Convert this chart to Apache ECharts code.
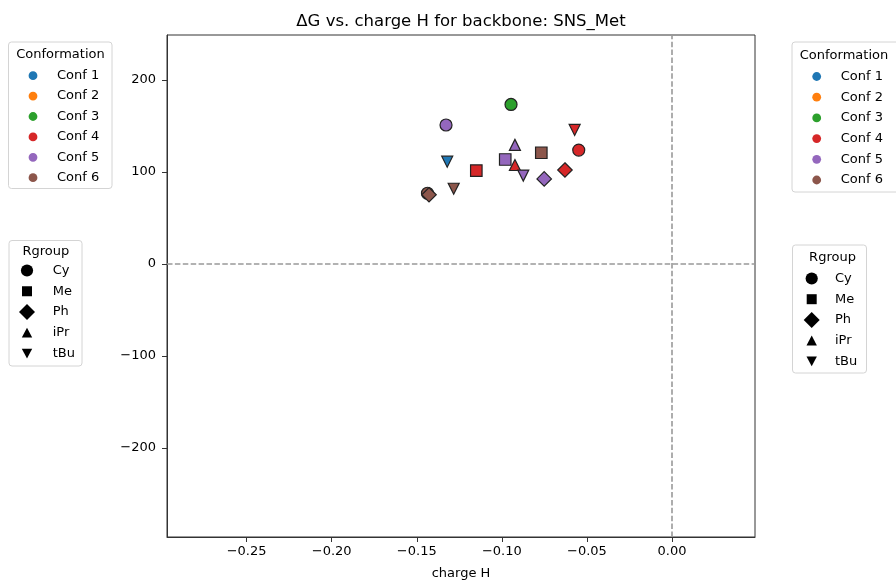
<!DOCTYPE html>
<html>
<head>
<meta charset="utf-8">
<script src="https://cdn.jsdelivr.net/npm/echarts@6/dist/echarts.min.js"></script>
<style>html,body{margin:0;padding:0;background:#fff}#c{width:896px;height:585px}</style>
</head>
<body>
<div id="c"></div>
<script>
const confNames = ['Conf 1', 'Conf 2', 'Conf 3', 'Conf 4', 'Conf 5', 'Conf 6'];
const rgroupNames = ['Cy', 'Me', 'Ph', 'iPr', 'tBu'];
const pointConf = ['Conf 1', 'Conf 3', 'Conf 4', 'Conf 4', 'Conf 4', 'Conf 4', 'Conf 4', 'Conf 5', 'Conf 5', 'Conf 5', 'Conf 5', 'Conf 5', 'Conf 6', 'Conf 6', 'Conf 6', 'Conf 6'];
const pointRgroup = ['tBu', 'Cy', 'Cy', 'Me', 'Ph', 'iPr', 'tBu', 'Cy', 'Me', 'Ph', 'iPr', 'tBu', 'Cy', 'Me', 'Ph', 'tBu'];
const pointChargeH = [-0.1321, -0.0946, -0.0548, -0.1150, -0.0629, -0.0923, -0.0572, -0.1328, -0.0980, -0.0751, -0.0923, -0.0874, -0.1437, -0.0768, -0.1428, -0.1283];
const pointDeltaG = [111.0, 173.2, 123.6, 101.3, 102.0, 107.4, 145.5, 150.9, 113.4, 92.3, 129.3, 95.9, 76.7, 120.7, 75.1, 81.6];
const xTicks = [-0.25, -0.2, -0.15, -0.1, -0.05, 0];
const yTicks = [-200, -100, 0, 100, 200];
const titleText = '\u0394G vs. charge H for backbone: SNS_Met';
const xAxisName = 'charge H';

const confColors = ['#1f77b4', '#ff7f0e', '#2ca02c', '#d62728', '#9467bd', '#8c564b'];
const FONT = 'DejaVu Sans';
const downTri = 'path://M0,0 L10,0 L5,10 Z';
const rgroupSymbols = { Cy: 'circle', Me: 'rect', Ph: 'diamond', iPr: 'triangle', tBu: downTri };
const rgroupSizes = { Cy: 12, Me: 11.5, Ph: 14.5, iPr: 11, tBu: 11 };

function minus(s) { return s.replace('-', '\u2212'); }

const series = [];
rgroupNames.forEach(function (rg, ri) {
  const data = [];
  for (let i = 0; i < pointRgroup.length; i++) {
    if (pointRgroup[i] !== rg) continue;
    const ci = confNames.indexOf(pointConf[i]);
    data.push({ value: [pointChargeH[i], pointDeltaG[i]], itemStyle: { color: confColors[ci] } });
  }
  const s = {
    type: 'scatter', name: rg, symbol: rgroupSymbols[rg], symbolSize: rgroupSizes[rg],
    itemStyle: { color: '#000', borderColor: '#222', borderWidth: 1.2, opacity: 1 },
    emphasis: { disabled: true },
    data: data, z: 3
  };
  if (ri === 0) {
    s.markLine = {
      silent: true, symbol: 'none', animation: false,
      label: { show: false },
      lineStyle: { color: '#999', type: [5.5, 2.4], width: 1.6 },
      data: [{ xAxis: 0 }, { yAxis: 0 }]
    };
  }
  series.push(s);
});
confNames.forEach(function (cn, ci) {
  series.push({ type: 'scatter', name: cn, data: [], itemStyle: { color: confColors[ci], opacity: 1 } });
});

function confIcon(w) {
  return 'path://M0,0 M' + w + ',14 M2.6,7 A4.4,4.4 0 1,1 11.4,7 A4.4,4.4 0 1,1 2.6,7 Z';
}
function rgIcon(rg, w) {
  const pad = 'path://M0,0 M' + w + ',16 ';
  if (rg === 'Cy') return pad + 'M1.9,8 A6.1,6.1 0 1,1 14.1,8 A6.1,6.1 0 1,1 1.9,8 Z';
  if (rg === 'Me') return pad + 'M3,3 L13,3 L13,13 L3,13 Z';
  if (rg === 'Ph') return pad + 'M8,0 L16,8 L8,16 L0,8 Z';
  if (rg === 'iPr') return pad + 'M8,3 L13.2,12.8 L2.8,12.8 Z';
  return pad + 'M2.8,3.2 L13.2,3.2 L8,13 Z';
}
function confLegend(left, top, gap) {
  const w = 26;
  return {
    orient: 'vertical', left: left, top: top, padding: 0, itemGap: gap,
    itemWidth: w, itemHeight: 14, selectedMode: false,
    textStyle: { fontFamily: FONT, fontSize: 13, color: '#000', lineHeight: 14 },
    data: confNames.map(function (cn, ci) {
      return { name: cn, icon: confIcon(w), itemStyle: { color: confColors[ci], borderWidth: 0, opacity: 1 } };
    })
  };
}
function rgLegend(left, top, gap, w) {
  return {
    orient: 'vertical', left: left, top: top, padding: 0, itemGap: gap,
    itemWidth: w, itemHeight: 16, selectedMode: false,
    textStyle: { fontFamily: FONT, fontSize: 13, color: '#000', lineHeight: 16 },
    data: rgroupNames.map(function (rg) {
      return { name: rg, icon: rgIcon(rg, w), itemStyle: { color: '#000', borderWidth: 0, opacity: 1 } };
    })
  };
}
function box(x, y, w, h) {
  return { type: 'rect', shape: { x: x, y: y, width: w, height: h, r: 3 }, style: { fill: 'rgba(255,255,255,0.8)', stroke: '#d4d4d4', lineWidth: 1 }, z: 1, silent: true };
}
function label(x, y, t, size) {
  return { type: 'text', x: x, y: y, z: 5, silent: true, style: { text: t, fontFamily: FONT, fontSize: size, fill: '#000', align: 'center', verticalAlign: 'middle' } };
}

const chart = echarts.init(document.getElementById('c'), null, { renderer: 'canvas' });
chart.setOption({
  animation: false,
  backgroundColor: '#fff',
  grid: { left: 167, right: 141, top: 35, bottom: 44, show: true, borderColor: '#333', borderWidth: 1, backgroundColor: 'transparent' },
  xAxis: {
    type: 'value', min: -0.2968, max: 0.0488,
    name: xAxisName, nameLocation: 'middle', nameGap: 30,
    nameTextStyle: { fontFamily: FONT, fontSize: 13, color: '#000' },
    axisLine: { show: true, onZero: false, lineStyle: { color: '#333', width: 1 } },
    axisTick: { show: true, length: 5, customValues: xTicks, lineStyle: { color: '#333' } },
    axisLabel: { customValues: xTicks, margin: 8, fontFamily: FONT, fontSize: 13, color: '#000',
      formatter: function (v) { return minus(v.toFixed(2)); } },
    splitLine: { show: false }
  },
  yAxis: {
    type: 'value', min: -296.9, max: 248.7,
    axisLine: { show: true, onZero: false, lineStyle: { color: '#333', width: 1 } },
    axisTick: { show: true, length: 5, customValues: yTicks, lineStyle: { color: '#333' } },
    axisLabel: { customValues: yTicks, margin: 11, fontFamily: FONT, fontSize: 13, color: '#000',
      formatter: function (v) { return minus(String(Math.round(v))); } },
    splitLine: { show: false }
  },
  legend: [
    confLegend(26, 68.7, 6.4),
    rgLegend(19, 262.5, 4.75, 28.7),
    confLegend(809.7, 69.5, 6.7),
    rgLegend(803.7, 270.5, 4.7, 26.3)
  ],
  graphic: [
    box(8.5, 42, 103.5, 146.5),
    label(60.5, 54.5, 'Conformation', 13),
    box(9, 240.5, 73, 125.5),
    label(45.8, 251.5, 'Rgroup', 13),
    box(792, 42, 110, 150),
    label(844, 55.5, 'Conformation', 13),
    box(792.5, 245, 74, 128),
    label(832.5, 257.5, 'Rgroup', 13),
    label(461, 22, titleText, 16.5)
  ],
  series: series
});
</script>
</body>
</html>
